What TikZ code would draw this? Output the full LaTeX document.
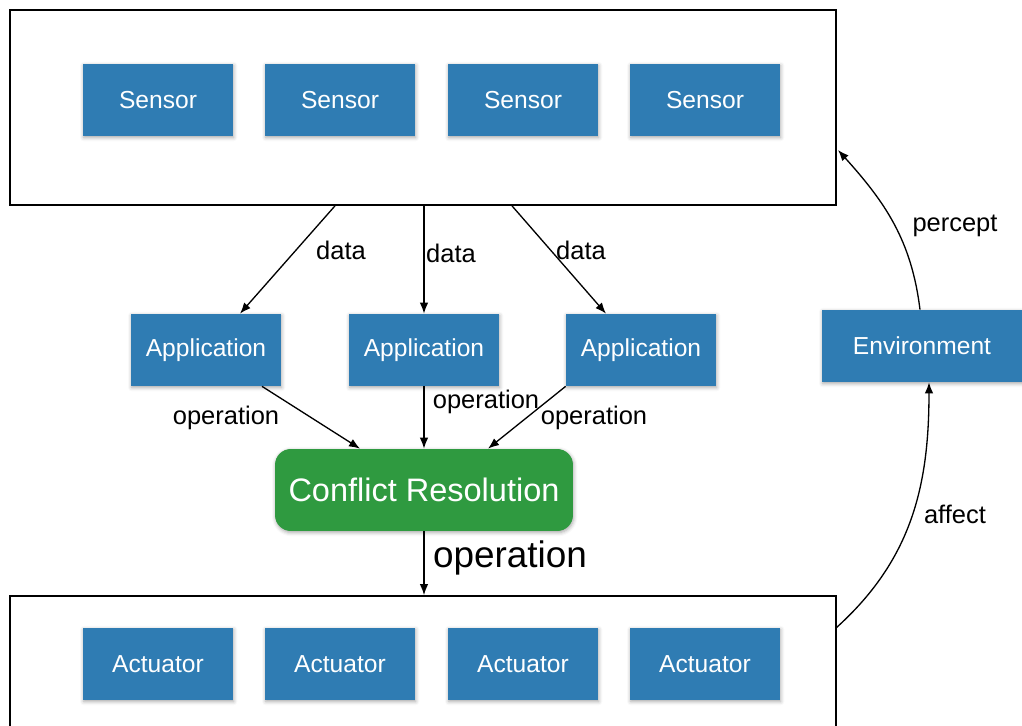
\documentclass[tikz,border=0pt]{standalone}
\usepackage{fontspec}
\setmainfont{Liberation Sans}
\usepackage{tikz}
\usetikzlibrary{arrows.meta,positioning,calc,shadows.blur}
\definecolor{cblue}{HTML}{2F7CB3}
\definecolor{cgreen}{HTML}{2F9A40}

\begin{document}
\begin{tikzpicture}[x=0.02cm,y=-0.02cm,
  font=\fontsize{14}{16}\selectfont,
  frame/.style={draw=black,line width=1pt,minimum width=16.52cm},
  unit/.style={fill=cblue,text=white,minimum width=3cm,minimum height=1.44cm,
               blur shadow={shadow blur steps=4,shadow xshift=0.4pt,shadow yshift=-0.9pt,shadow opacity=35}},
  resolve/.style={fill=cgreen,text=white,rounded corners=9pt,minimum width=5.96cm,
                  minimum height=1.64cm,font=\fontsize{18.5}{20}\selectfont,
                  blur shadow={shadow blur steps=4,shadow xshift=0.4pt,shadow yshift=-0.9pt,shadow opacity=35}},
  lbl/.style={font=\fontsize{14.5}{16}\selectfont},
  arr/.style={-{Latex[length=2.2mm,width=1.7mm]},line width=0.75pt}]
  \useasboundingbox (0,0) rectangle (1022,726);
  % outer frames
  \node[frame,minimum height=3.9cm] (top) at (423,107.5) {};
  \node[frame,minimum height=2.88cm] (bot) at (423,668) {};
  % sensors and actuators
  \foreach \i/\x in {1/158,2/340,3/523,4/705} {
    \node[unit] (sen\i) at (\x,100) {Sensor};
    \node[unit] (act\i) at (\x,664) {Actuator};
  }
  % applications
  \node[unit] (app1) at (206,350) {Application};
  \node[unit] (app2) at (424,350) {Application};
  \node[unit] (app3) at (641,350) {Application};
  \node[unit,minimum width=4cm] (env) at (922,346) {Environment};
  \node[resolve] (cr) at (424,490) {Conflict Resolution};
  % data flow
  \draw[arr] ($(top.south)+(-88,0)$) -- ($(app1.north)+(34,0)$);
  \draw[arr] ($(top.south)+(1,0)$) -- (app2.north);
  \draw[arr] ($(top.south)+(89,0)$) -- ($(app3.north)+(-35,0)$);
  \node[lbl] (d1) at (341,250) {data};
  \node[lbl] (d2) at (451,253) {data};
  \node[lbl] (d3) at (581,250) {data};
  \draw[arr] ($(app1.south)+(56,0)$) -- ($(cr.north)+(-64,0)$);
  \draw[arr] (app2.south) -- (cr.north);
  \draw[arr] (app3.south west) -- ($(cr.north)+(64,0)$);
  \node[lbl] (o1) at (226,418) {operation};
  \node[lbl] (o2) at (486,402) {operation};
  \node[lbl] (o3) at (594,418) {operation};
  \draw[arr] (cr.south) -- (cr.south |- bot.north);
  \node[font=\fontsize{21}{24}\selectfont] (o4) at (510,558) {operation};
  % loop through the environment
  \coordinate (aff) at (836,628);
  \coordinate (perc) at (838,150);
  \draw[arr] (aff) to[out=42,in=-90] ($(env.south)+(7,0)$);
  \draw[arr] ($(env.north)+(-2,0)$) to[out=97,in=-48] (perc);
  \node[lbl] (pc) at (955,226) {percept};
  \node[lbl] (af) at (955,514) {affect};
\end{tikzpicture}
\end{document}
